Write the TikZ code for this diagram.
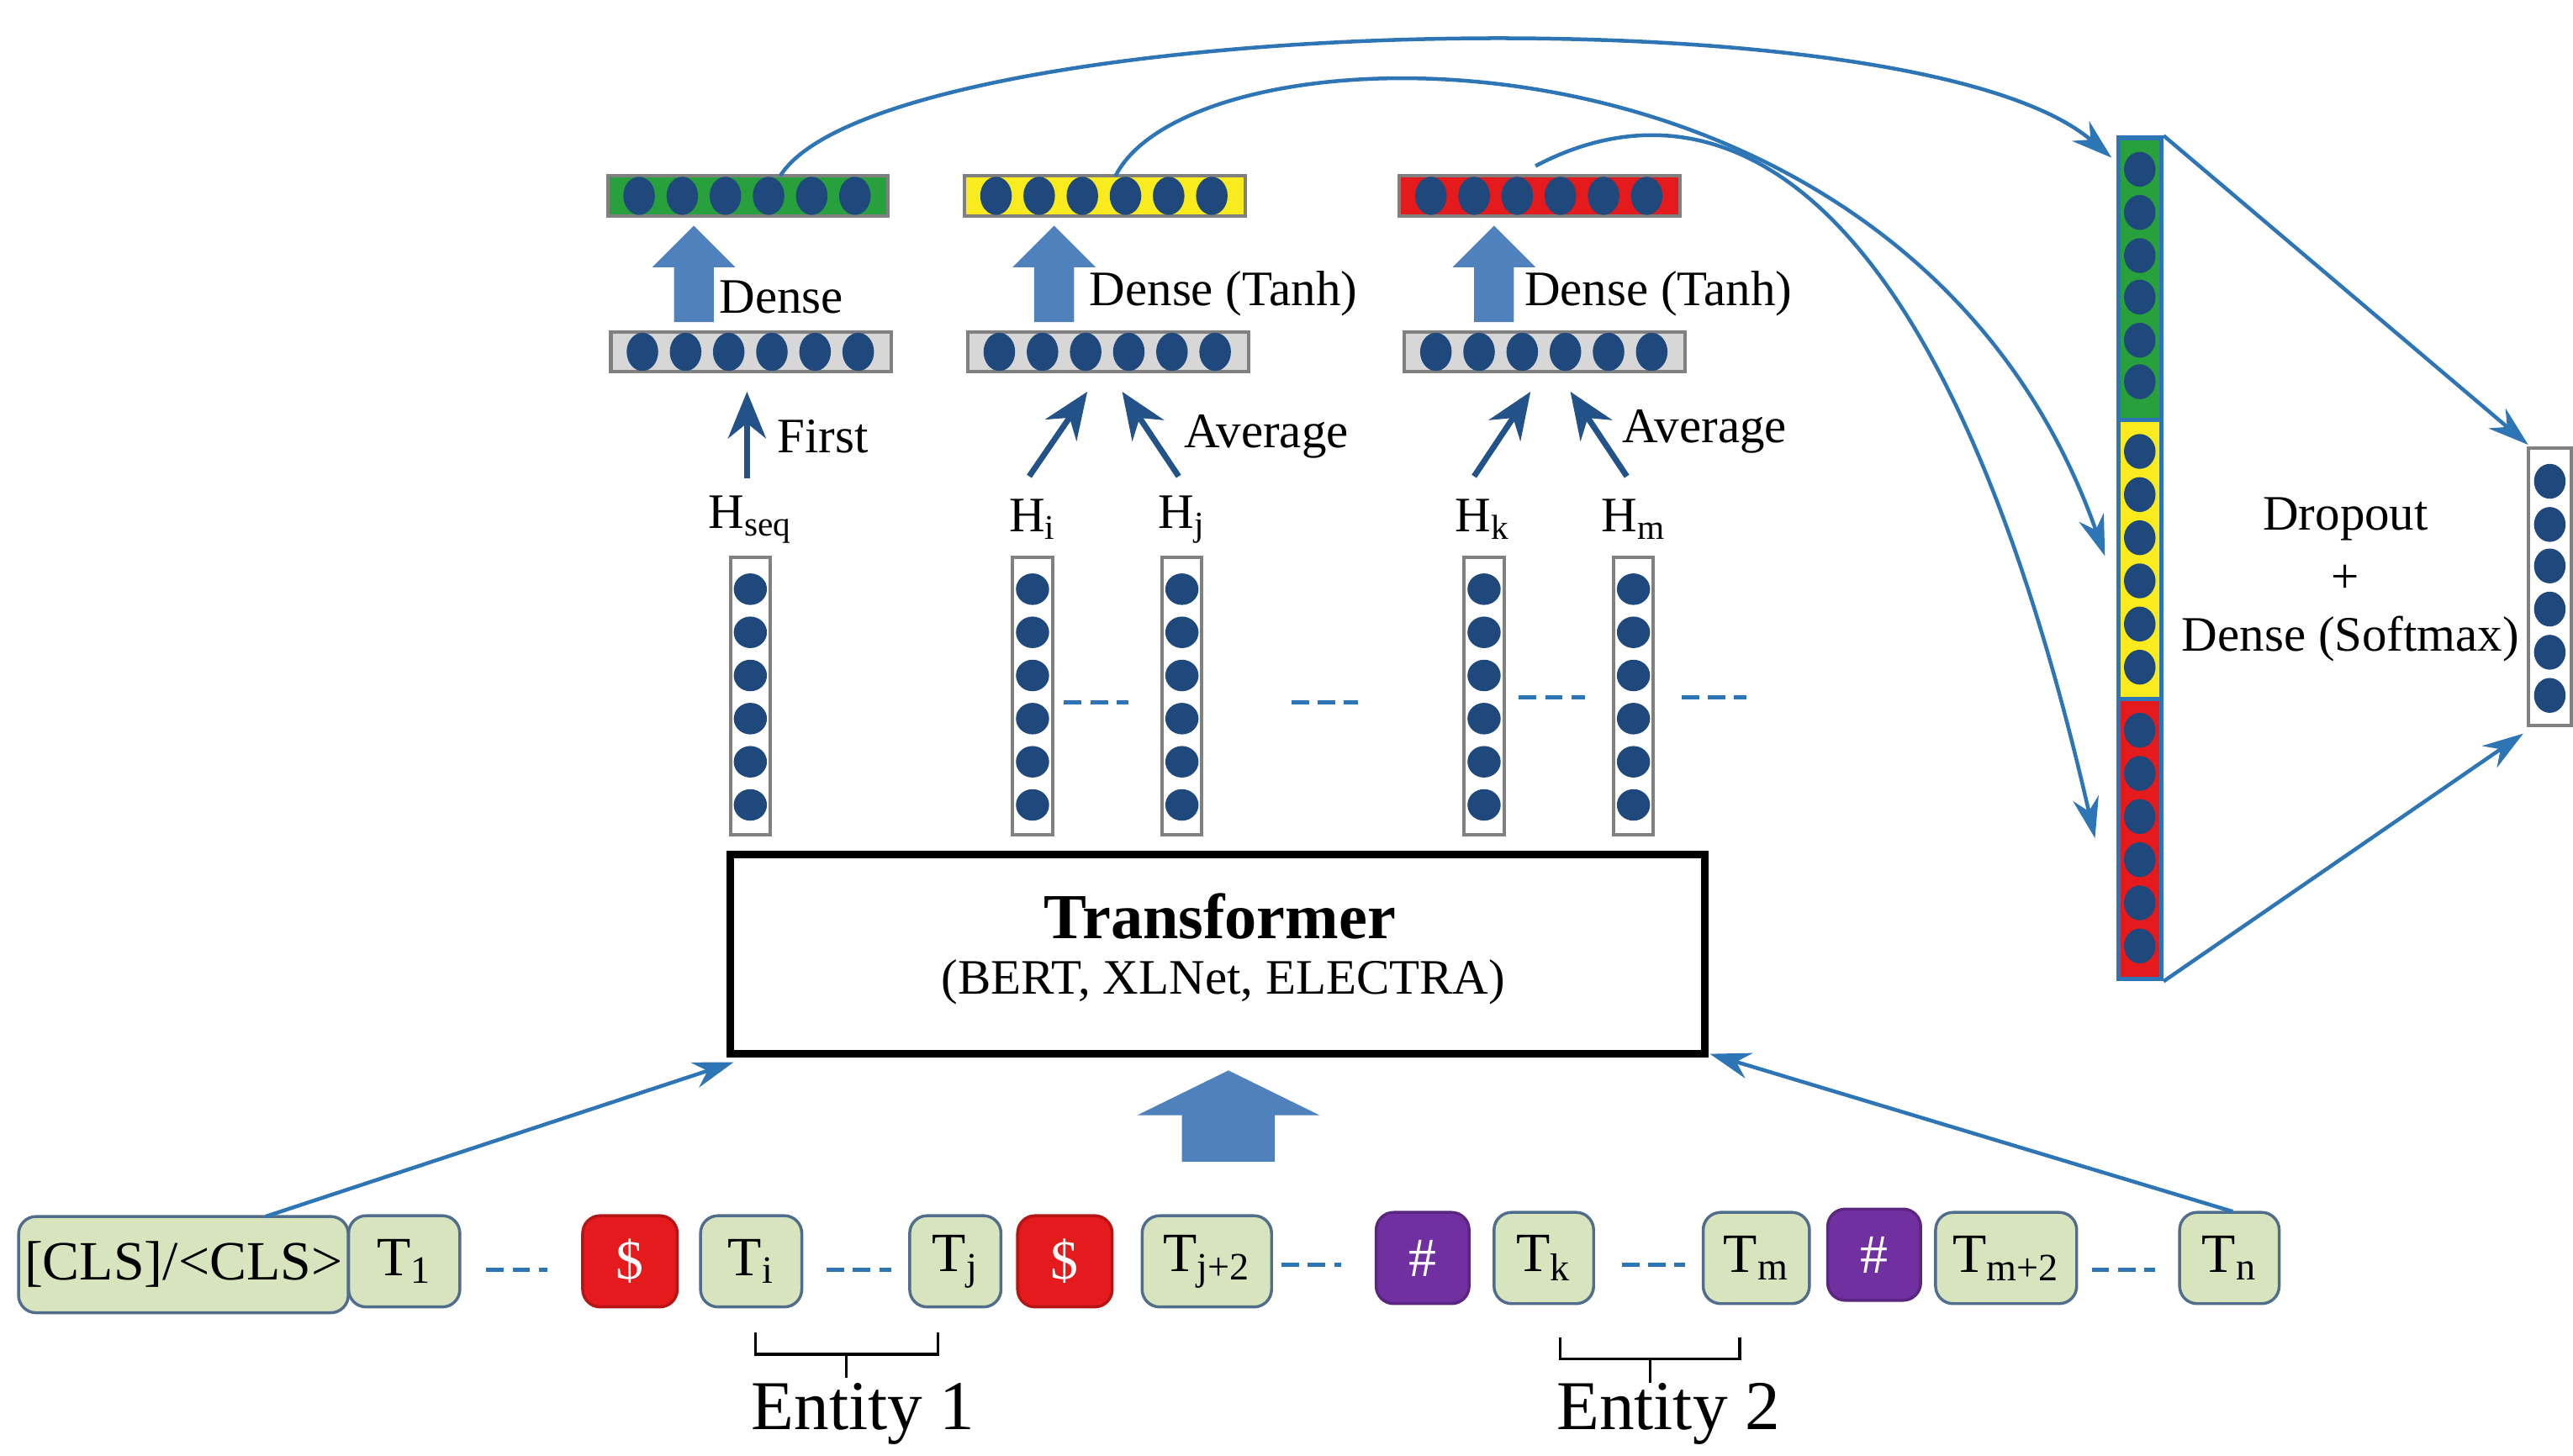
\documentclass[tikz,border=0pt]{standalone}
\usepackage{fontspec}
\setmainfont{Liberation Serif}
\usetikzlibrary{arrows.meta,decorations.pathreplacing}
\definecolor{ablue}{RGB}{46,117,182}
\definecolor{dotc}{RGB}{31,73,125}
\definecolor{bfill}{RGB}{79,129,189}
\definecolor{tokf}{RGB}{215,228,189}
\definecolor{tokb}{RGB}{80,110,140}
\definecolor{vgreen}{RGB}{40,160,60}
\definecolor{vyellow}{RGB}{250,235,30}
\definecolor{vred}{RGB}{228,26,28}
\definecolor{vgray}{RGB}{215,215,215}
\definecolor{vpurple}{RGB}{112,48,160}
\newcommand\hvecx[4]{%
  \node[hv,fill=#4] (#1) at (#2+84.5,#3+12) {};
  \foreach \i in {0,...,5} \fill[dotc] (#2+19+\i*26,#3+12) ellipse[x radius=0.19cm,y radius=0.23cm];}
\newcommand\vvecx[3]{%
  \node[vv] (#1) at (#2,#3+83.5) {};
  \foreach \i in {0,...,5} \fill[dotc] (#2,#3+19+\i*26) ellipse[x radius=0.2cm,y radius=0.19cm];}
\newcommand\barrowx[3]{% x, ybottom, ytop
  \fill[bfill] (#1-12,#2)--(#1-12,#2-33)--(#1-25,#2-33)--(#1,#3)--(#1+25,#2-33)--(#1+12,#2-33)--(#1+12,#2)--cycle;}
\tikzset{
  hv/.style={draw=gray,line width=1.2pt,minimum width=3.38cm,minimum height=0.48cm,inner sep=0},
  vv/.style={draw=gray,line width=1.2pt,fill=white,minimum width=0.48cm,minimum height=3.34cm,inner sep=0},
  tok/.style={draw=tokb,line width=1pt,fill=tokf,rounded corners=6pt,minimum height=1.1cm,inner sep=2pt,font=\fontsize{19}{22}\selectfont},
  arr/.style={draw=ablue,line width=1.3pt,-{Stealth[length=14pt,width=9pt]}},
  tarr/.style={draw=dotc!80!ablue,line width=2pt,-{Stealth[length=16pt,width=13pt]}},
  dsh/.style={draw=ablue,line width=1.5pt,dash pattern=on 6pt off 3pt},
  lab/.style={font=\fontsize{17}{20}\selectfont,inner sep=0},
}
\begin{document}
\begin{tikzpicture}[x=0.02cm,y=-0.02cm]
\useasboundingbox (0,0) rectangle (1550,877);
% top vectors
\hvecx{g}{366}{106}{vgreen}
\hvecx{yv}{581}{106}{vyellow}
\hvecx{r}{843}{106}{vred}
\hvecx{g1}{368}{200}{vgray}
\hvecx{g2}{583}{200}{vgray}
\hvecx{g3}{846}{200}{vgray}
\barrowx{418}{194}{136}
\barrowx{635}{194}{136}
\barrowx{900}{194}{136}
\node[lab,anchor=west] (d1) at (433,179) {Dense};
\node[lab,anchor=west] (d2) at (656,177) {Dense (Tanh)};
\node[lab,anchor=west] (d3) at (918,177) {Dense (Tanh)};
% H vectors
\vvecx{hs}{452}{336}
\vvecx{hi}{622}{336}
\vvecx{hj}{712}{336}
\vvecx{hk}{894}{336}
\vvecx{hm}{984}{336}
\node[lab] (Ls) at (452,313) {H\textsubscript{seq}};
\node[lab] (Li) at (622,313) {H\textsubscript{i}};
\node[lab] (Lj) at (712,313) {H\textsubscript{j}};
\node[lab] (Lk) at (893,313) {H\textsubscript{k}};
\node[lab] (Lm) at (984,313) {H\textsubscript{m}};
\coordinate (f0) at (450,288); \coordinate (f1) at (450,236);
\draw[tarr] (f0) -- (f1);
\node[lab,anchor=west] (first) at (468,263) {First};
\coordinate (a0) at (620,287); \coordinate (a1) at (655,236);
\coordinate (b0) at (710,287); \coordinate (b1) at (676,236);
\draw[tarr] (a0) -- (a1); \draw[tarr] (b0) -- (b1);
\node[lab,anchor=west] (av1) at (713,263) {Average};
\coordinate (c0) at (888,287); \coordinate (c1) at (922,236);
\coordinate (e0) at (980,287); \coordinate (e1) at (946,236);
\draw[tarr] (c0) -- (c1); \draw[tarr] (e0) -- (e1);
\node[lab,anchor=west] (av2) at (977,260) {Average};
\draw[dsh] (641,423) -- (680,423);
\draw[dsh] (778,423) -- (818,423);
\draw[dsh] (915,420) -- (955,420);
\draw[dsh] (1013,420) -- (1052,420);
% transformer
\node[draw=black,line width=2.5pt,minimum width=11.74cm,minimum height=2.4cm,inner sep=0] (tr) at (733.5,575) {};
\node[font=\bfseries\fontsize{22}{26}\selectfont] (trt) at (735,552) {Transformer};
\node[font=\fontsize{17}{20}\selectfont] (trs) at (737,592) {(BERT, XLNet, ELECTRA)};
\fill[bfill] (712,700)--(712,672)--(685,672)--(740,645)--(795,672)--(768,672)--(768,700)--cycle;
% tokens
\node[tok,minimum width=3.7cm,minimum height=1.16cm] (cls) at (110.5,762) {[CLS]/<CLS>};
\node[tok,minimum width=1.34cm] (t1) at (243.5,760) {T\textsubscript{1}};
\node[tok,minimum width=1.14cm,fill=vred,draw=vred!80!black,text=white] (s1) at (379.5,760) {\$};
\node[tok,minimum width=1.22cm] (ti) at (452.5,760) {T\textsubscript{i}};
\node[tok,minimum width=1.1cm] (tj) at (575.5,760) {T\textsubscript{j}};
\node[tok,minimum width=1.14cm,fill=vred,draw=vred!80!black,text=white] (s2) at (641.5,760) {\$};
\node[tok,minimum width=1.56cm] (tj2) at (727,760) {T\textsubscript{j+2}};
\node[tok,minimum width=1.12cm,fill=vpurple,draw=vpurple!80!black,text=white] (h1) at (857,758) {\#};
\node[tok,minimum width=1.2cm] (tk) at (930,758) {T\textsubscript{k}};
\node[tok,minimum width=1.28cm] (tm) at (1058,758) {T\textsubscript{m}};
\node[tok,minimum width=1.12cm,fill=vpurple,draw=vpurple!80!black,text=white] (h2) at (1129,756) {\#};
\node[tok,minimum width=1.7cm] (tm2) at (1208.5,758) {T\textsubscript{m+2}};
\node[tok,minimum width=1.2cm] (tn) at (1343,758) {T\textsubscript{n}};
\draw[dsh] (293,765) -- (330,765);
\draw[dsh] (498,765) -- (537,765);
\draw[dsh] (772,762) -- (808,762);
\draw[dsh] (977,762) -- (1015,762);
\draw[dsh] (1260,765) -- (1298,765);
\coordinate (clsA) at (160,733); \coordinate (trA) at (442,640);
\coordinate (tnA) at (1345,730); \coordinate (trB) at (1030,635);
\draw[arr] (clsA) -- (trA);
\draw[arr] (tnA) -- (trB);
% braces
\draw[line width=0.9pt] (455,803) -- (455,816) -- (510,816) -- (510,830);
\draw[line width=0.9pt] (565,803) -- (565,816) -- (510,816);
\node[font=\fontsize{24}{28}\selectfont] (e1) at (520,852) {Entity 1};
\draw[line width=0.9pt] (940,806) -- (940,819) -- (994,819) -- (994,833);
\draw[line width=0.9pt] (1048,806) -- (1048,819) -- (994,819);
\node[font=\fontsize{24}{28}\selectfont] (e2) at (1005,852) {Entity 2};
% right column
\node[draw=ablue,line width=1.5pt,fill=vgreen,minimum width=0.52cm,minimum height=3.4cm,inner sep=0] (cg) at (1289,168) {};
\node[draw=ablue,line width=1.5pt,fill=vyellow,minimum width=0.52cm,minimum height=3.36cm,inner sep=0] (cy) at (1289,337) {};
\node[draw=ablue,line width=1.5pt,fill=vred,minimum width=0.52cm,minimum height=3.38cm,inner sep=0] (cr) at (1289,505.5) {};
\foreach \yy in {102,128,154,179,205,230,272,298,324,350,376,402,440,466,492,518,544,570}
  \fill[dotc] (1289,\yy) ellipse[x radius=0.19cm,y radius=0.21cm];
\node[draw=gray,line width=1.2pt,fill=white,minimum width=0.52cm,minimum height=3.34cm,inner sep=0] (out) at (1536,353.5) {};
\foreach \yy in {290,316,341,367,393,419}
  \fill[dotc] (1536,\yy) ellipse[x radius=0.19cm,y radius=0.21cm];
\draw[arr] (cg.north east) -- (1523,268);
\draw[arr] (cr.south east) -- (1520,442);
\node[lab] (dr) at (1413,313) {Dropout};
\node[lab] (pl) at (1413,349) {+};
\node[lab] (ds) at (1416,385) {Dense (Softmax)};
% curves
\draw[arr] (470,106) .. controls (530,10) and (1150,-10) .. (1272,95);
\draw[arr] (672,106) .. controls (720,10) and (1150,0) .. (1268,335);
\draw[arr] (925,100) .. controls (1010,55) and (1160,60) .. (1262,505);
\end{tikzpicture}
\end{document}
